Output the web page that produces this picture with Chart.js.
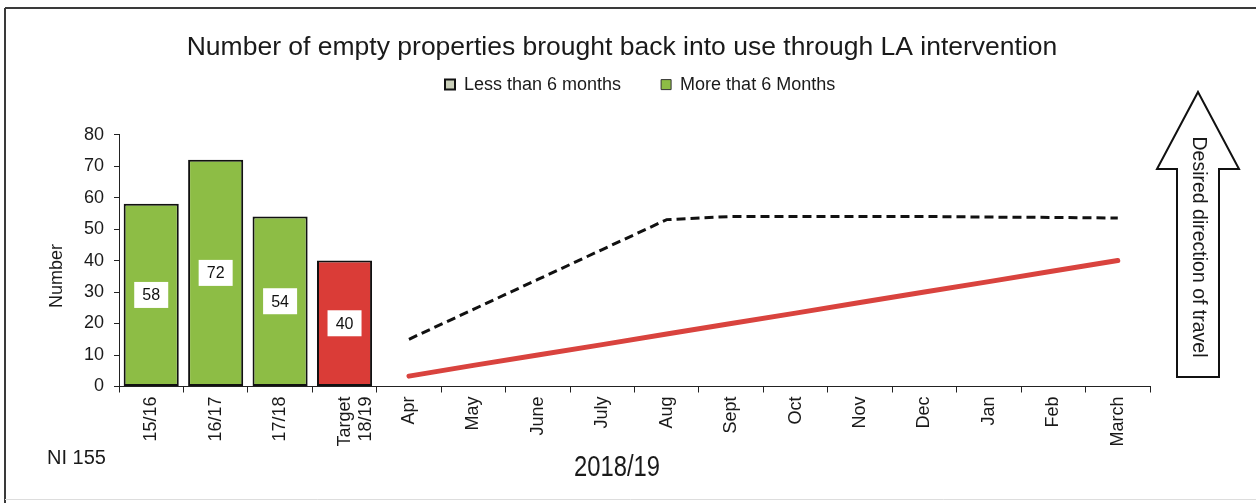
<!DOCTYPE html>
<html><head><meta charset="utf-8">
<script src="https://cdn.jsdelivr.net/npm/chart.js@4.4.1/dist/chart.umd.min.js"></script>
<style>html,body{margin:0;padding:0;background:#fff}#wrap{width:1256px;height:503px;position:relative}</style>
</head><body><div id="wrap"><canvas id="c" width="1256" height="503"></canvas></div>
<script>
const chartTitle = 'Number of empty properties brought back into use through LA intervention';
const categories = ['15/16','16/17','17/18',['Target','18/19'],'Apr','May','June','July','Aug','Sept','Oct','Nov','Dec','Jan','Feb','March'];
const annualValues = [58,72,54,40,null,null,null,null,null,null,null,null,null,null,null,null];
const annualColours = ['#8dbd45','#8dbd45','#8dbd45','#da3c37'];
const lessThan6Months = [null,null,null,null,15,24.5,34,43.5,53,54,54,54,54,53.8,53.7,53.5];
const targetProfile = [null,null,null,null,3.3,6.7,10,13.3,16.7,20,23.3,26.7,30,33.3,36.7,40];
const yTickValues = [0,10,20,30,40,50,60,70,80];
const legendLabels = ['Less than 6 months','More that 6 Months'];
const yAxisTitle = 'Number';
const xAxisTitle = '2018/19';
const indicatorCode = 'NI 155';
const arrowText = 'Desired direction of travel';

const FONT = "'Liberation Sans', Arial, sans-serif";

const layoutTweaks = {
  id: 'layoutTweaks',
  beforeLayout(chart) {
    const lg = chart.legend;
    if (lg && !lg._patched) {
      const orig = lg.fit;
      lg.fit = function () {
        orig.call(this);
        if (this.options.display) {
          this.height += 31;
          if (this.lineWidths && this.lineWidths.length) this.lineWidths[0] = 394;
        }
      };
      lg._patched = true;
    }
  }
};

const decorations = {
  id: 'decorations',
  beforeDraw(chart) {
    const ctx = chart.ctx;
    ctx.save();
    ctx.fillStyle = '#ffffff';
    ctx.fillRect(0, 0, chart.width, chart.height);
    ctx.strokeStyle = '#3a3a3a';
    ctx.lineWidth = 2;
    ctx.beginPath();
    ctx.moveTo(5, 8); ctx.lineTo(1256, 8);
    ctx.moveTo(5, 8); ctx.lineTo(5, 503);
    ctx.stroke();
    ctx.strokeStyle = '#dddddd';
    ctx.lineWidth = 1;
    ctx.beginPath();
    ctx.moveTo(5, 499.5); ctx.lineTo(1256, 499.5);
    ctx.stroke();
    ctx.restore();
  },
  afterDatasetsDraw(chart) {
    const ctx = chart.ctx;
    const meta = chart.getDatasetMeta(0);
    ctx.save();
    ctx.font = '16px ' + FONT;
    ctx.textAlign = 'center';
    ctx.textBaseline = 'middle';
    meta.data.forEach((bar, i) => {
      const v = annualValues[i];
      if (v == null) return;
      const cy = (bar.y + bar.base) / 2;
      ctx.fillStyle = '#ffffff';
      ctx.fillRect(bar.x - 17, cy - 13, 34, 26);
      ctx.fillStyle = '#111111';
      ctx.fillText(String(v), bar.x, cy + 1);
    });
    ctx.restore();
  },
  afterDraw(chart) {
    const ctx = chart.ctx;
    ctx.save();
    ctx.fillStyle = '#1a1a1a';
    ctx.save();
    ctx.translate(57, 276);
    ctx.rotate(-Math.PI / 2);
    ctx.font = '18px ' + FONT;
    ctx.textAlign = 'center';
    ctx.textBaseline = 'middle';
    ctx.fillText(yAxisTitle, 0, 0);
    ctx.restore();
    ctx.font = '20px ' + FONT;
    ctx.textAlign = 'left';
    ctx.textBaseline = 'middle';
    ctx.fillText(indicatorCode, 47, 458);
    ctx.save();
    ctx.translate(617, 468);
    ctx.scale(0.82, 1);
    ctx.font = '29px ' + FONT;
    ctx.textAlign = 'center';
    ctx.textBaseline = 'middle';
    ctx.fillText(xAxisTitle, 0, 0);
    ctx.restore();
    ctx.beginPath();
    ctx.moveTo(1198, 92);
    ctx.lineTo(1239, 169);
    ctx.lineTo(1219, 169);
    ctx.lineTo(1219, 377);
    ctx.lineTo(1177, 377);
    ctx.lineTo(1177, 169);
    ctx.lineTo(1157, 169);
    ctx.closePath();
    ctx.fillStyle = '#ffffff';
    ctx.fill();
    ctx.strokeStyle = '#111111';
    ctx.lineWidth = 2;
    ctx.lineJoin = 'miter';
    ctx.stroke();
    ctx.save();
    ctx.translate(1198, 247);
    ctx.rotate(Math.PI / 2);
    ctx.font = '19.5px ' + FONT;
    ctx.fillStyle = '#1a1a1a';
    ctx.textAlign = 'center';
    ctx.textBaseline = 'middle';
    ctx.fillText(arrowText, 0, 0);
    ctx.restore();
    ctx.restore();
  }
};

new Chart(document.getElementById('c'), {
  data: {
    labels: categories,
    datasets: [
      {
        type: 'bar',
        label: 'Annual',
        data: annualValues,
        backgroundColor: annualColours,
        borderColor: '#111111',
        borderWidth: 2,
        borderSkipped: false,
        barPercentage: 0.855,
        categoryPercentage: 1,
        order: 3
      },
      {
        type: 'line',
        label: 'Less than 6 months',
        data: lessThan6Months,
        borderColor: '#111111',
        borderWidth: 3,
        borderDash: [9, 5],
        pointRadius: 0,
        tension: 0,
        fill: false,
        order: 1
      },
      {
        type: 'line',
        label: 'Target profile',
        data: targetProfile,
        borderColor: '#d9433e',
        borderWidth: 5,
        borderCapStyle: 'round',
        pointRadius: 0,
        tension: 0,
        fill: false,
        order: 2
      }
    ]
  },
  options: {
    responsive: false,
    animation: false,
    devicePixelRatio: 1,
    layout: { padding: { left: 0, right: 12, top: 0, bottom: 20 } },
    plugins: {
      title: {
        display: true,
        text: chartTitle,
        color: '#1a1a1a',
        font: { family: FONT, size: 26.5, weight: 'normal' },
        padding: { top: 31.4, bottom: -27.6 }
      },
      legend: {
        display: true,
        position: 'top',
        onClick: null,
        labels: {
          font: { family: FONT, size: 18 },
          color: '#1a1a1a',
          boxWidth: 10,
          boxHeight: 10,
          padding: 40,
          generateLabels: () => [
            { text: legendLabels[0], fillStyle: '#c9ceb8', strokeStyle: '#111111', lineWidth: 2, hidden: false, fontColor: '#1a1a1a' },
            { text: legendLabels[1], fillStyle: '#8dbd45', strokeStyle: '#333333', lineWidth: 1, hidden: false, fontColor: '#1a1a1a' }
          ]
        }
      },
      tooltip: { enabled: false }
    },
    scales: {
      x: {
        type: 'category',
        offset: true,
        grid: { display: true, offset: true, drawOnChartArea: false, drawTicks: true, tickLength: 6, color: '#222222' },
        border: { display: true, color: '#222222', width: 1 },
        ticks: { autoSkip: false, minRotation: 90, maxRotation: 90, padding: 4, color: '#1a1a1a', font: { family: FONT, size: 18 } },
        afterFit(s) { s.height = 96.5; }
      },
      y: {
        type: 'linear',
        position: 'left',
        min: 0,
        max: 80,
        afterBuildTicks(s) { s.ticks = yTickValues.map(v => ({ value: v })); },
        grid: { display: true, drawOnChartArea: false, drawTicks: true, tickLength: 5, color: '#222222' },
        border: { display: true, color: '#222222', width: 1 },
        ticks: { padding: 10, color: '#1a1a1a', font: { family: FONT, size: 18 } },
        afterFit(s) { s.width = 119; }
      },
      yRight: {
        type: 'linear',
        position: 'right',
        display: true,
        grid: { display: false, drawTicks: false },
        border: { display: false },
        ticks: { display: false },
        afterFit(s) { s.width = 94; }
      }
    }
  },
  plugins: [layoutTweaks, decorations]
});
</script>
</body></html>
